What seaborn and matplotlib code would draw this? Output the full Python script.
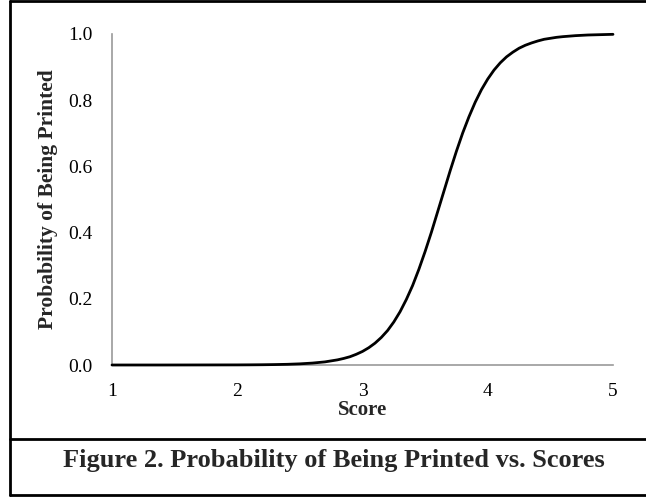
import matplotlib
matplotlib.use("Agg")
import matplotlib.pyplot as plt
from matplotlib.lines import Line2D
import seaborn as sns
import pandas as pd

# Curve (score -> probability)
scores = [1.0, 1.2, 1.4, 1.6, 1.8, 2.0, 2.1, 2.2, 2.3, 2.4, 2.5, 2.6, 2.7,
          2.8, 2.85, 2.9, 2.95, 3.0, 3.05, 3.1, 3.15, 3.2, 3.25, 3.3, 3.35,
          3.4, 3.45, 3.5, 3.55, 3.6, 3.65, 3.7, 3.75, 3.8, 3.85, 3.9, 3.95,
          4.0, 4.05, 4.1, 4.15, 4.2, 4.25, 4.3, 4.35, 4.4, 4.45, 4.5, 4.55,
          4.6, 4.7, 4.8, 4.9, 5.0]
probs = [0.0, 0.0, 0.0, 0.0001, 0.0002, 0.0003, 0.0005, 0.0008, 0.0013,
         0.0021, 0.0035, 0.0058, 0.0094, 0.0155, 0.0198, 0.025, 0.0323,
         0.041, 0.0522, 0.066, 0.0832, 0.104, 0.130, 0.161, 0.198, 0.240,
         0.289, 0.343, 0.401, 0.463, 0.525, 0.587, 0.646, 0.701, 0.750,
         0.794, 0.832, 0.864, 0.891, 0.913, 0.931, 0.945, 0.957, 0.966,
         0.973, 0.979, 0.984, 0.987, 0.990, 0.992, 0.995, 0.997, 0.998, 0.999]

x_ticks = [1, 2, 3, 4, 5]
y_ticks = [0.0, 0.2, 0.4, 0.6, 0.8, 1.0]

sns.set_style("white")
plt.rcParams['font.family'] = ['Liberation Serif', 'DejaVu Serif']

df = pd.DataFrame({"Score": scores, "Probability": probs})

fig = plt.figure(figsize=(6.46, 4.97), dpi=100)
W, H = 646, 497
# axes box in pixel coords: x 112..613, y 34..365 (from top)
ax = fig.add_axes([112 / W, 1 - 365 / H, (613 - 112) / W, (365 - 34) / H])

sns.lineplot(data=df, x="Score", y="Probability", color="black", linewidth=2.0, ax=ax)
for ln in ax.lines:
    ln.set_clip_on(False)
    ln.set_zorder(3)

ax.set_xlim(1, 5)
ax.set_ylim(0, 1)
ax.set_xticks(x_ticks)
ax.set_yticks(y_ticks)
ax.set_yticklabels([f"{v:.1f}" for v in y_ticks])

axis_grey = "#9a9a9a"
for side in ["top", "right"]:
    ax.spines[side].set_visible(False)
for side in ["left", "bottom"]:
    ax.spines[side].set_color(axis_grey)
    ax.spines[side].set_linewidth(1.2)
ax.tick_params(axis="both", direction="out", length=4, width=1.2, color=axis_grey,
               labelsize=14, labelcolor="black")
ax.tick_params(axis="x", pad=9)
ax.tick_params(axis="y", pad=10)

ax.set_xlabel("Score", fontsize=15, fontweight="bold")
ax.xaxis.set_label_coords(0.5, -0.105)
ax.set_ylabel("Probability of Being Printed", fontsize=15.5, fontweight="bold")
ax.yaxis.set_label_coords(-0.108, 0.5)

# caption
fig.text(334 / W, 1 - 460 / H, "Figure 2. Probability of Being Printed vs. Scores",
         ha="center", va="center", fontsize=19, fontweight="bold")

# frame around the figure and the caption divider
lw = 2.0
def px_line(x0, y0, x1, y1):
    fig.add_artist(Line2D([x0 / W, x1 / W], [1 - y0 / H, 1 - y1 / H],
                          transform=fig.transFigure, color="black", linewidth=lw))

px_line(10, 1, 10, 495)
px_line(10, 1, 646, 1)
px_line(10, 495, 646, 495)
px_line(10, 439, 646, 439)

fig.savefig("out.png", dpi=100)
